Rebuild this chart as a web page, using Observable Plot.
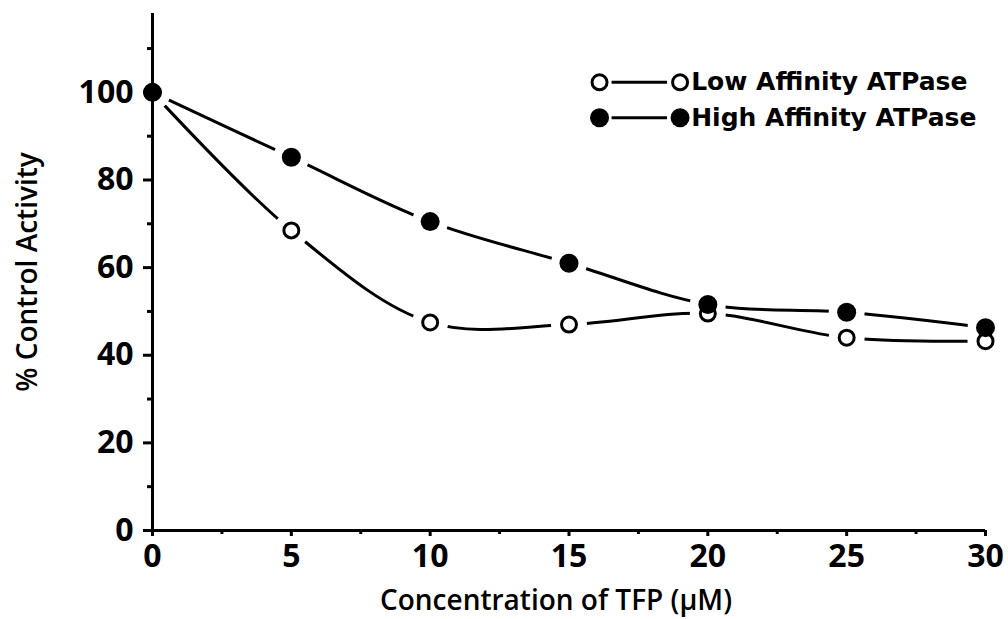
<!DOCTYPE html>
<html>
<head>
<meta charset="utf-8">
<script src="https://cdn.jsdelivr.net/npm/d3@7"></script>
<script src="https://cdn.jsdelivr.net/npm/@observablehq/plot@0.6"></script>
<style>
  html, body { margin: 0; padding: 0; background: #fff; }
  #chart svg { display: block; }
</style>
</head>
<body>
<div id="chart"></div>
<script>
// TFP concentration (µM) and % of control ATPase activity
const concentration = [0, 5, 10, 15, 20, 25, 30];
const lowAffinity   = [100, 68.5, 47.5, 47, 49.5, 44, 43.2];
const highAffinity  = [100, 85.2, 70.5, 61, 51.6, 49.8, 46.3];

const seriesNames = ["Low Affinity ATPase", "High Affinity ATPase"];

const xTicks = [0, 5, 10, 15, 20, 25, 30];
const xMinorTicks = [2.5, 7.5, 12.5, 17.5, 22.5, 27.5];
const yTicks = [0, 20, 40, 60, 80, 100];
const yMinorTicks = [10, 30, 50, 70, 90, 110];

const xTitle = "Concentration of TFP (\u03BCM)";
const yTitle = "% Control Activity";

const low = concentration.map((c, i) => ({x: c, y: lowAffinity[i]}));
const high = concentration.map((c, i) => ({x: c, y: highAffinity[i]}));
const all = low.concat(high);

// legend rows, placed in data units in the upper right of the frame
const legendRows = [
  {name: seriesNames[0], y: 102.3, filled: false},
  {name: seriesNames[1], y: 94.2, filled: true}
];
const legendX0 = 16.1, legendX1 = 19.0, legendText = 19.4;
const legendSegments = legendRows.map(d => ({y: d.y, x1: legendX0 + 0.45, x2: legendX1 - 0.45}));
const legendMarks = legendRows.flatMap(d => [{x: legendX0, y: d.y, filled: d.filled}, {x: legendX1, y: d.y, filled: d.filled}]);

const font = "'Open Sans', 'DejaVu Sans', sans-serif";

const chart = Plot.plot({
  width: 1008,
  height: 619,
  marginLeft: 152,
  marginRight: 23,
  marginTop: 13,
  marginBottom: 89,
  style: {fontFamily: font, fontWeight: 600, color: "black", background: "white", overflow: "visible"},
  x: {domain: [0, 30]},
  y: {domain: [0, 118]},
  marks: [
    Plot.line(low, {x: "x", y: "y", curve: "catmull-rom", stroke: "black", strokeWidth: 3}),
    Plot.line(high, {x: "x", y: "y", curve: "catmull-rom", stroke: "black", strokeWidth: 3}),
    // white halos leave a small gap between each curve and its markers
    Plot.dot(all, {x: "x", y: "y", r: 18, fill: "white", stroke: null}),
    Plot.ruleX([0], {stroke: "black", strokeWidth: 3}),
    Plot.ruleY([0], {stroke: "black", strokeWidth: 3}),
    // tick marks (outward), labels drawn separately below
    Plot.axisY(yTicks, {tickSize: 9, strokeWidth: 3, tickFormat: () => "", label: null}),
    Plot.axisY(yMinorTicks, {tickSize: 5, strokeWidth: 3, tickFormat: () => "", label: null}),
    Plot.axisX(xTicks, {tickSize: 6, strokeWidth: 3, tickFormat: () => "", label: null}),
    Plot.axisX(xMinorTicks, {tickSize: 4, strokeWidth: 3, tickFormat: () => "", label: null}),
    Plot.text(yTicks, {x: () => 0, y: d => d, dx: -19, textAnchor: "end", fontSize: 32, fontWeight: 700, fill: "black"}),
    Plot.text(xTicks, {x: d => d, y: () => 0, dy: 26, fontSize: 32, fontWeight: 700, fill: "black"}),
    Plot.text([xTitle], {frameAnchor: "bottom", lineAnchor: "middle", dx: -13, dy: 71, fontSize: 28, fill: "black"}),
    Plot.text([yTitle], {frameAnchor: "left", textAnchor: "middle", lineAnchor: "middle", rotate: -90, dx: -124, fontSize: 28, fill: "black"}),
    Plot.dot(low, {x: "x", y: "y", r: 7.5, fill: "white", stroke: "black", strokeWidth: 3}),
    Plot.dot(high, {x: "x", y: "y", r: 9.5, fill: "black", stroke: null}),
    // legend
    Plot.ruleY(legendSegments, {y: "y", x1: "x1", x2: "x2", stroke: "black", strokeWidth: 3}),
    Plot.dot(legendMarks.filter(d => !d.filled), {x: "x", y: "y", r: 7.5, fill: "white", stroke: "black", strokeWidth: 3}),
    Plot.dot(legendMarks.filter(d => d.filled), {x: "x", y: "y", r: 9.5, fill: "black"}),
    Plot.text(legendRows, {x: () => legendText, y: "y", text: "name", textAnchor: "start",
      fontFamily: "'DejaVu Sans', sans-serif", fontWeight: 700, fontSize: 25, fill: "black"})
  ]
});

document.getElementById("chart").appendChild(chart);
</script>
</body>
</html>
